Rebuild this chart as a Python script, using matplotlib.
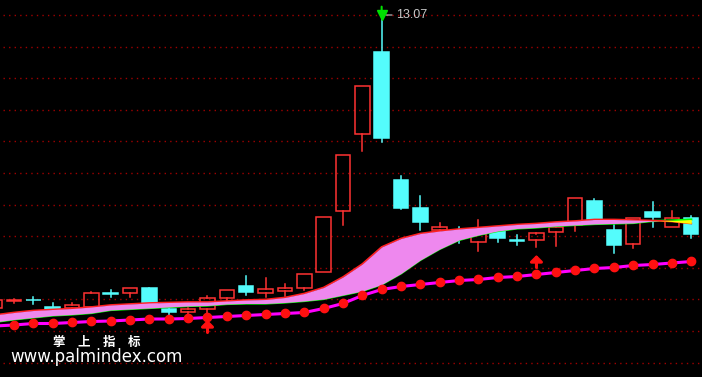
import matplotlib
matplotlib.use("Agg")
import matplotlib.pyplot as plt
import numpy as np
from matplotlib.patches import Rectangle

# K线: 第一根在左边只露出一点
opens = [7.21, 7.35, 7.37, 7.23, 7.20, 7.22, 7.50, 7.51, 7.61, 7.19, 7.12, 7.19,
         7.40, 7.65, 7.50, 7.54, 7.60, 7.93, 9.15, 10.68, 12.33, 9.77, 9.21, 8.76,
         8.73, 8.54, 8.75, 8.56, 8.56, 8.72, 8.86, 9.35, 8.77, 8.48, 9.13, 8.82, 9.01]
highs = [7.39, 7.39, 7.43, 7.31, 7.31, 7.53, 7.57, 7.61, 7.61, 7.25, 7.20, 7.45,
         7.57, 7.85, 7.81, 7.68, 7.89, 9.03, 10.27, 11.65, 13.07, 9.85, 9.45, 8.91,
         8.83, 8.97, 8.79, 8.67, 8.71, 8.85, 9.41, 9.39, 8.87, 9.01, 9.33, 9.15, 9.05]
lows = [7.19, 7.31, 7.29, 7.17, 7.19, 7.21, 7.43, 7.43, 7.31, 7.07, 7.05, 7.11,
        7.32, 7.47, 7.42, 7.44, 7.56, 7.93, 8.87, 10.36, 10.54, 9.19, 8.76, 8.75,
        8.51, 8.34, 8.52, 8.46, 8.42, 8.44, 8.74, 8.97, 8.30, 8.41, 8.82, 8.82, 8.62]
closes = [7.37, 7.37, 7.36, 7.19, 7.27, 7.51, 7.49, 7.61, 7.31, 7.13, 7.19, 7.41,
          7.57, 7.53, 7.59, 7.61, 7.89, 9.03, 10.27, 11.65, 10.62, 9.21, 8.92, 8.83,
          8.67, 8.70, 8.62, 8.55, 8.70, 8.83, 9.40, 8.98, 8.46, 9.00, 9.02, 9.00, 8.70]

# 粉色带的上沿(红)和下沿(绿)
band_up = [7.07, 7.12, 7.16, 7.18, 7.20, 7.23, 7.27, 7.29, 7.31, 7.32, 7.33, 7.33,
           7.35, 7.37, 7.38, 7.42, 7.50, 7.62, 7.83, 8.09, 8.43, 8.60, 8.70, 8.75,
           8.79, 8.82, 8.85, 8.88, 8.90, 8.93, 8.95, 8.98, 8.98, 8.97, 8.96, 8.94, 8.90]
band_dn = [6.93, 6.98, 7.02, 7.06, 7.08, 7.11, 7.17, 7.19, 7.21, 7.23, 7.25, 7.26,
           7.29, 7.30, 7.30, 7.32, 7.35, 7.39, 7.47, 7.55, 7.68, 7.90, 8.17, 8.39,
           8.57, 8.67, 8.75, 8.80, 8.82, 8.85, 8.87, 8.89, 8.90, 8.91, 8.95, 8.96, 8.98]

# 紫线 + 红点
slow_line = [6.85, 6.87, 6.90, 6.90, 6.92, 6.94, 6.95, 6.97, 6.99, 6.99, 7.00, 7.02,
             7.04, 7.06, 7.08, 7.10, 7.12, 7.20, 7.30, 7.46, 7.58, 7.64, 7.68, 7.72,
             7.76, 7.78, 7.82, 7.84, 7.88, 7.92, 7.96, 8.00, 8.02, 8.06, 8.08, 8.11, 8.14]

# 买点箭头 (K线序号, 箭头尖的价格)
buy_idx = [10, 27]
buy_tip = [6.97, 8.27]

RED = '#ff3232'
CYAN = '#54fcfc'

x = np.arange(len(opens)) - 1
n = len(opens)

fig = plt.figure(figsize=(7.02, 3.77), dpi=100, facecolor='black')
ax = fig.add_axes([0, 0, 1, 1])
ax.set_facecolor('black')
ax.set_xlim(-0.7235, 35.556)
ax.set_ylim(5.83, 13.37)
ax.axis('off')

# 虚线网格
for k in range(12):
    g = 1 - (15 + 31.6 * k) / 377
    ax.plot([0.004, 1], [g, g], transform=ax.transAxes, color='#a00000',
            lw=1, ls=(0, (1, 3)), zorder=1)

# K线
w = 0.75
for i in range(n):
    o, h, l, c = opens[i], highs[i], lows[i], closes[i]
    xi = x[i]
    top, bot = max(o, c), min(o, c)
    if c >= o:
        ax.plot([xi, xi], [top, h], color=RED, lw=1.1, zorder=2)
        ax.plot([xi, xi], [l, bot], color=RED, lw=1.1, zorder=2)
        ax.add_patch(Rectangle((xi - w / 2, bot), w, top - bot, facecolor='none',
                               edgecolor=RED, lw=1.1, zorder=2))
    else:
        ax.plot([xi, xi], [l, h], color=CYAN, lw=1.1, zorder=2)
        ax.add_patch(Rectangle((xi - w / 2, bot), w, top - bot, facecolor=CYAN,
                               edgecolor=CYAN, lw=1.1, zorder=2))

# 粉色带
up = np.array(band_up)
dn = np.array(band_dn)
ax.plot(x, dn, color='#00ff00', lw=1.6, zorder=3)
ax.plot(x, up, color='#ff2020', lw=1.3, zorder=3)
ax.fill_between(x, dn, up, where=up >= dn, interpolate=True, color='#ee88ee',
                lw=0, zorder=4)
ax.fill_between(x, dn, up, where=up < dn, interpolate=True, color='#ffff00',
                lw=0, zorder=4)

# 紫线
ax.plot(x, slow_line, color='#ff00ff', lw=2.2, zorder=5)
ax.plot(x[1:], slow_line[1:], ls='none', marker='o', ms=6, color='#ff1010',
        zorder=6)

# 买点箭头
for bi, tip in zip(buy_idx, buy_tip):
    ax.annotate('', xy=(bi, tip), xytext=(0, -9), textcoords='offset points',
                arrowprops=dict(arrowstyle='-|>,head_length=0.3,head_width=0.3',
                                color='#ff1010', lw=2.2, mutation_scale=12,
                                shrinkA=0, shrinkB=0), zorder=7)

# 最高点标记
pk = int(np.argmax(highs))
ax.plot(x[pk], highs[pk], marker='v', ms=7, color='#00e000', zorder=8)
ax.annotate('', xy=(x[pk], highs[pk]), xytext=(0, 6), textcoords='offset points',
            arrowprops=dict(arrowstyle='-', color='#00e000', lw=1.5,
                            shrinkA=0, shrinkB=0), zorder=8)
ax.annotate('%.2f' % highs[pk], xy=(x[pk], highs[pk]), xytext=(10.5, 0),
            textcoords='offset points', va='center', ha='left', color='#c8c8c8',
            fontsize=9, family='Liberation Sans',
            arrowprops=dict(arrowstyle='-', color='#c8c8c8', lw=0.8,
                            shrinkA=1, shrinkB=3))

# 水印
fig.text(97 / 702, 1 - 342 / 377, '掌　上　指　标', color='white', fontsize=9,
         fontweight='bold', ha='center', va='center',
         family=['Noto Sans CJK SC', 'DejaVu Sans'])
fig.text(10 / 702, 1 - 357 / 377, 'www.palmindex.com', color='white',
         fontsize=12, ha='left', va='center', family='DejaVu Sans')

fig.savefig('out.png', dpi=100, facecolor='black')
